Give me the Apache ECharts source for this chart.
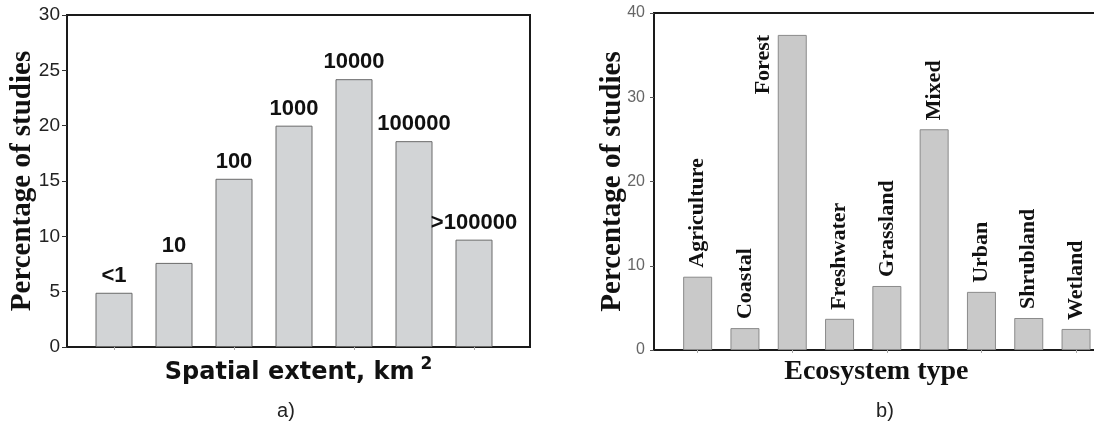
<!DOCTYPE html>
<html>
<head>
<meta charset="utf-8">
<script src="https://cdn.jsdelivr.net/npm/echarts@6/dist/echarts.min.js"></script>
<style>
html,body{margin:0;padding:0;background:#fff;}
#chart{width:1094px;height:425px;}
</style>
</head>
<body>
<div id="chart"></div>
<script>
// Panel a) spatial extent
var spatialCats = ['<1', '10', '100', '1000', '10000', '100000', '>100000'];
var spatialVals = [4.9, 7.6, 15.2, 20.0, 24.2, 18.6, 9.7];
var spatialTicks = [0, 5, 10, 15, 20, 25, 30];

// Panel b) ecosystem type
var ecoCats = ['Agriculture', 'Coastal', 'Forest', 'Freshwater', 'Grassland', 'Mixed', 'Urban', 'Shrubland', 'Wetland'];
var ecoVals = [8.7, 2.6, 37.4, 3.7, 7.6, 26.2, 6.9, 3.8, 2.5];
var ecoTicks = [0, 10, 20, 30, 40];

var chart = echarts.init(document.getElementById('chart'), null, {renderer: 'canvas'});

var ecoData = ecoVals.map(function (v, i) {
  if (ecoCats[i] === 'Forest') {
    return {value: v, label: {position: [-14, 0], align: 'right', verticalAlign: 'middle'}};
  }
  return v;
});

var serif = '"Liberation Serif", "Times New Roman", serif';
var sans = '"Liberation Sans", Arial, sans-serif';
var verd = '"DejaVu Sans", Verdana, sans-serif';

var option = {
  animation: false,
  backgroundColor: '#ffffff',
  title: [
    {text: 'a)', left: 281, top: 396, textAlign: 'center',
     textStyle: {fontFamily: sans, fontWeight: 'normal', fontSize: 20, color: '#222'}},
    {text: 'b)', left: 880, top: 396, textAlign: 'center',
     textStyle: {fontFamily: sans, fontWeight: 'normal', fontSize: 20, color: '#222'}}
  ],
  grid: [
    {left: 67, top: 15, width: 463, height: 332, show: true, borderColor: '#1a1a1a', borderWidth: 2, backgroundColor: 'transparent', outerBoundsMode: 'none', containLabel: false},
    {left: 84, top: 15, width: 420, height: 332, outerBoundsMode: 'none', containLabel: false},
    {left: 654, top: 13, width: 470, height: 337, show: true, borderColor: '#1a1a1a', borderWidth: 2, backgroundColor: 'transparent', outerBoundsMode: 'none', containLabel: false},
    {left: 674, top: 13, width: 425.7, height: 337, outerBoundsMode: 'none', containLabel: false}
  ],
  xAxis: [
    {gridIndex: 0, type: 'value', min: 0, max: 1, show: true,
     axisLine: {show: false}, axisTick: {show: false}, axisLabel: {show: false}, splitLine: {show: false},
     name: '{a|Spatial extent, km}{b|2}', nameLocation: 'middle', nameGap: 9, nameMoveOverlap: false,
     nameTextStyle: {
       rich: {
         a: {fontFamily: verd, fontWeight: 'bold', fontSize: 24, color: '#111', lineHeight: 34},
         b: {fontFamily: verd, fontWeight: 'bold', fontSize: 17, color: '#111', verticalAlign: 'top', padding: [0, 0, 0, 6], lineHeight: 18}
       }
     }},
    {gridIndex: 1, type: 'category', data: spatialCats, boundaryGap: true,
     axisLine: {show: false}, axisLabel: {show: false},
     axisTick: {show: true, alignWithLabel: true, length: 3, lineStyle: {color: '#aaa'}}},
    {gridIndex: 2, type: 'value', min: 0, max: 1, show: true,
     axisLine: {show: false}, axisTick: {show: false}, axisLabel: {show: false}, splitLine: {show: false}},
    {gridIndex: 3, type: 'category', data: ecoCats, boundaryGap: true,
     axisLine: {show: false}, axisLabel: {show: false},
     axisTick: {show: true, alignWithLabel: true, length: 3, lineStyle: {color: '#aaa'}},
     name: 'Ecosystem type', nameLocation: 'middle', nameGap: 8, nameMoveOverlap: false,
     nameTextStyle: {fontFamily: serif, fontWeight: 'bold', fontSize: 28, color: '#111', padding: [0, 21, 0, 0]}}
  ],
  yAxis: [
    {gridIndex: 0, type: 'value', min: 0, max: 30, interval: 5,
     axisLine: {show: true, lineStyle: {color: '#1a1a1a', width: 2}},
     axisTick: {show: true, inside: false, length: 5, lineStyle: {color: '#333'}},
     axisLabel: {show: true, margin: 7, fontFamily: sans, fontSize: 19, color: '#222',
       formatter: function (v) { return spatialTicks.indexOf(v) >= 0 ? String(v) : ''; }},
     splitLine: {show: false},
     name: 'Percentage of studies', nameLocation: 'middle', nameRotate: 90, nameGap: 30, nameMoveOverlap: false,
     nameTextStyle: {fontFamily: serif, fontWeight: 'bold', fontSize: 29, color: '#111'}},
    {gridIndex: 1, type: 'value', min: 0, max: 30, interval: 5, show: false, splitLine: {show: false}},
    {gridIndex: 2, type: 'value', min: 0, max: 40, interval: 10,
     axisLine: {show: true, lineStyle: {color: '#1a1a1a', width: 2}},
     axisTick: {show: true, inside: false, length: 4, lineStyle: {color: '#555'}},
     axisLabel: {show: true, margin: 9, fontFamily: sans, fontSize: 16, color: '#666',
       formatter: function (v) { return ecoTicks.indexOf(v) >= 0 ? String(v) : ''; }},
     splitLine: {show: false},
     name: 'Percentage of studies', nameLocation: 'middle', nameRotate: 90, nameGap: 27, nameMoveOverlap: false,
     nameTextStyle: {fontFamily: serif, fontWeight: 'bold', fontSize: 29, color: '#111'}},
    {gridIndex: 3, type: 'value', min: 0, max: 40, interval: 10, show: false, splitLine: {show: false}}
  ],
  series: [
    {type: 'bar', xAxisIndex: 1, yAxisIndex: 1, data: spatialVals, barWidth: 37,
     itemStyle: {color: '#d2d4d6', borderColor: '#6a6a6a', borderWidth: 1},
     label: {show: true, position: 'top', distance: 6, formatter: '{b}',
       fontFamily: sans, fontWeight: 'bold', fontSize: 22, color: '#111'}},
    {type: 'bar', xAxisIndex: 3, yAxisIndex: 3, data: ecoData, barWidth: 29,
     itemStyle: {color: '#c9c9c9', borderColor: '#8a8a8a', borderWidth: 1},
     label: {show: true, position: 'top', distance: 9, rotate: 90, align: 'left', verticalAlign: 'middle',
       formatter: '{b}', fontFamily: serif, fontWeight: 'bold', fontSize: 22, color: '#111'}}
  ]
};
chart.setOption(option);
</script>
</body>
</html>
